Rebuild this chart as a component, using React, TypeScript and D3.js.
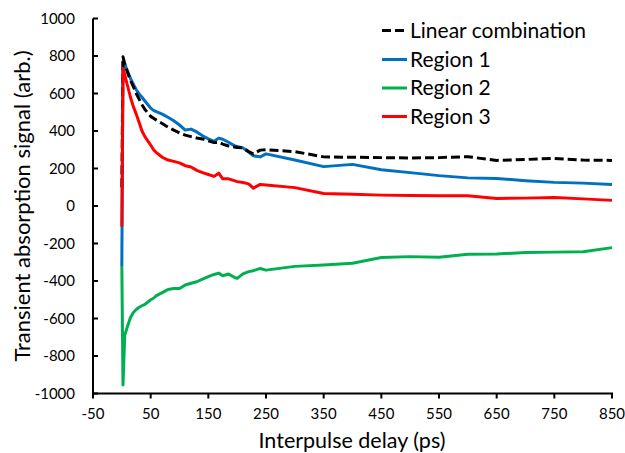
import React from "react";
import * as d3 from "d3";

const delays = [0, 2, 5, 10, 15, 20, 25, 30, 35, 40, 50, 55, 60, 70, 80, 90, 100, 110, 120, 130, 140, 150, 160, 168, 175, 185, 195, 200, 210, 220, 228, 240, 250, 300, 350, 400, 450, 500, 550, 600, 650, 700, 750, 800, 850];

const linearCombination = [100, 796, 760, 710, 670, 636, 600, 570, 540, 515, 478, 468, 458, 440, 420, 405, 390, 378, 370, 363, 357, 348, 338, 340, 330, 320, 315, 312, 310, 290, 278, 298, 300, 290, 262, 260, 258, 256, 258, 263, 243, 248, 254, 245, 243];

const region1 = [-320, 770, 755, 720, 680, 650, 620, 598, 580, 560, 522, 510, 503, 490, 473, 455, 432, 405, 410, 395, 375, 358, 345, 362, 356, 340, 322, 318, 310, 288, 268, 262, 278, 245, 210, 222, 193, 178, 162, 150, 147, 135, 126, 122, 115];

const region2 = [-320, -955, -690, -640, -595, -568, -552, -540, -532, -525, -500, -492, -478, -462, -445, -440, -440, -421, -412, -404, -390, -377, -365, -358, -372, -363, -380, -386, -362, -350, -345, -333, -342, -322, -315, -305, -275, -270, -273, -257, -256, -248, -246, -244, -222];

const region3 = [-110, 734, 700, 640, 580, 530, 490, 445, 400, 370, 325, 300, 285, 260, 245, 238, 230, 215, 208, 190, 178, 168, 158, 175, 145, 145, 135, 130, 125, 118, 95, 115, 112, 98, 67, 63, 58, 56, 55, 55, 40, 42, 45, 38, 30];

const seriesNames = ["Linear combination", "Region 1", "Region 2", "Region 3"];
const seriesColors = ["#000000", "#0070C0", "#00B050", "#FF0000"];
const xTicks = [-50, 50, 150, 250, 350, 450, 550, 650, 750, 850];
const yTicks = [-1000, -800, -600, -400, -200, 0, 200, 400, 600, 800, 1000];
const xTitle = "Interpulse delay (ps)";
const yTitle = "Transient absorption signal (arb.)";

const FONT = "Lato, 'Liberation Sans', sans-serif";

export default function App() {
  const W = 625, H = 453;
  const x = d3.scaleLinear().domain([-50, 850]).range([93, 612]);
  const y = d3.scaleLinear().domain([-1000, 1000]).range([393.5, 18.5]);
  const allSeries = [linearCombination, region1, region2, region3];
  // drawing order: Region 1, Linear combination, Region 2, Region 3
  const drawOrder = [1, 0, 2, 3];
  const line = d3
    .line<[number, number]>()
    .x((d) => x(d[0]))
    .y((d) => y(d[1]));

  const legendY = [30.5, 59.5, 88, 116.5];

  return (
    <svg
      width={W}
      height={H}
      style={{ position: "absolute", left: 0, top: 0, background: "#fff" }}
      fontFamily={FONT}
    >
      <rect x={0} y={0} width={W} height={H} fill="#fff" />
      {drawOrder.map((i) => (
        <path
          key={i}
          d={line(delays.map((t, k) => [t, allSeries[i][k]] as [number, number])) || ""}
          fill="none"
          stroke={seriesColors[i]}
          strokeWidth={3}
          strokeDasharray={i === 0 ? "9,4" : undefined}
          strokeLinejoin="round"
        />
      ))}
      {/* axes */}
      <line x1={x(-50)} x2={x(-50)} y1={y(1000)} y2={y(-1000)} stroke="#000" strokeWidth={2} />
      <line x1={x(-50) - 1} x2={x(850) + 1} y1={y(-1000)} y2={y(-1000)} stroke="#000" strokeWidth={2} />
      {yTicks.map((v) => (
        <g key={"y" + v}>
          <line x1={x(-50)} x2={x(-50) + 5} y1={y(v)} y2={y(v)} stroke="#000" strokeWidth={2} />
          <text x={75} y={y(v)} dy="0.35em" textAnchor="end" fontSize={15} fill="#000">
            {v}
          </text>
        </g>
      ))}
      {xTicks.map((v) => (
        <g key={"x" + v}>
          <line x1={x(v)} x2={x(v)} y1={y(-1000)} y2={y(-1000) + 5} stroke="#000" strokeWidth={2} />
          <text x={x(v)} y={414} dy="0.35em" textAnchor="middle" fontSize={15} fill="#000">
            {v}
          </text>
        </g>
      ))}
      <text x={352} y={440} dy="0.35em" textAnchor="middle" fontSize={21.5} fill="#000">
        {xTitle}
      </text>
      <text
        transform={`translate(22,206) rotate(-90)`}
        dy="0.35em"
        textAnchor="middle"
        fontSize={22}
        fill="#000"
      >
        {yTitle}
      </text>
      {/* legend */}
      {seriesNames.map((name, i) => (
        <g key={name}>
          <line
            x1={382}
            x2={407}
            y1={legendY[i]}
            y2={legendY[i]}
            stroke={seriesColors[i]}
            strokeWidth={3}
            strokeDasharray={i === 0 ? "9,4" : undefined}
          />
          <text x={410} y={legendY[i]} dy="0.35em" fontSize={21} fill="#000">
            {name}
          </text>
        </g>
      ))}
    </svg>
  );
}
